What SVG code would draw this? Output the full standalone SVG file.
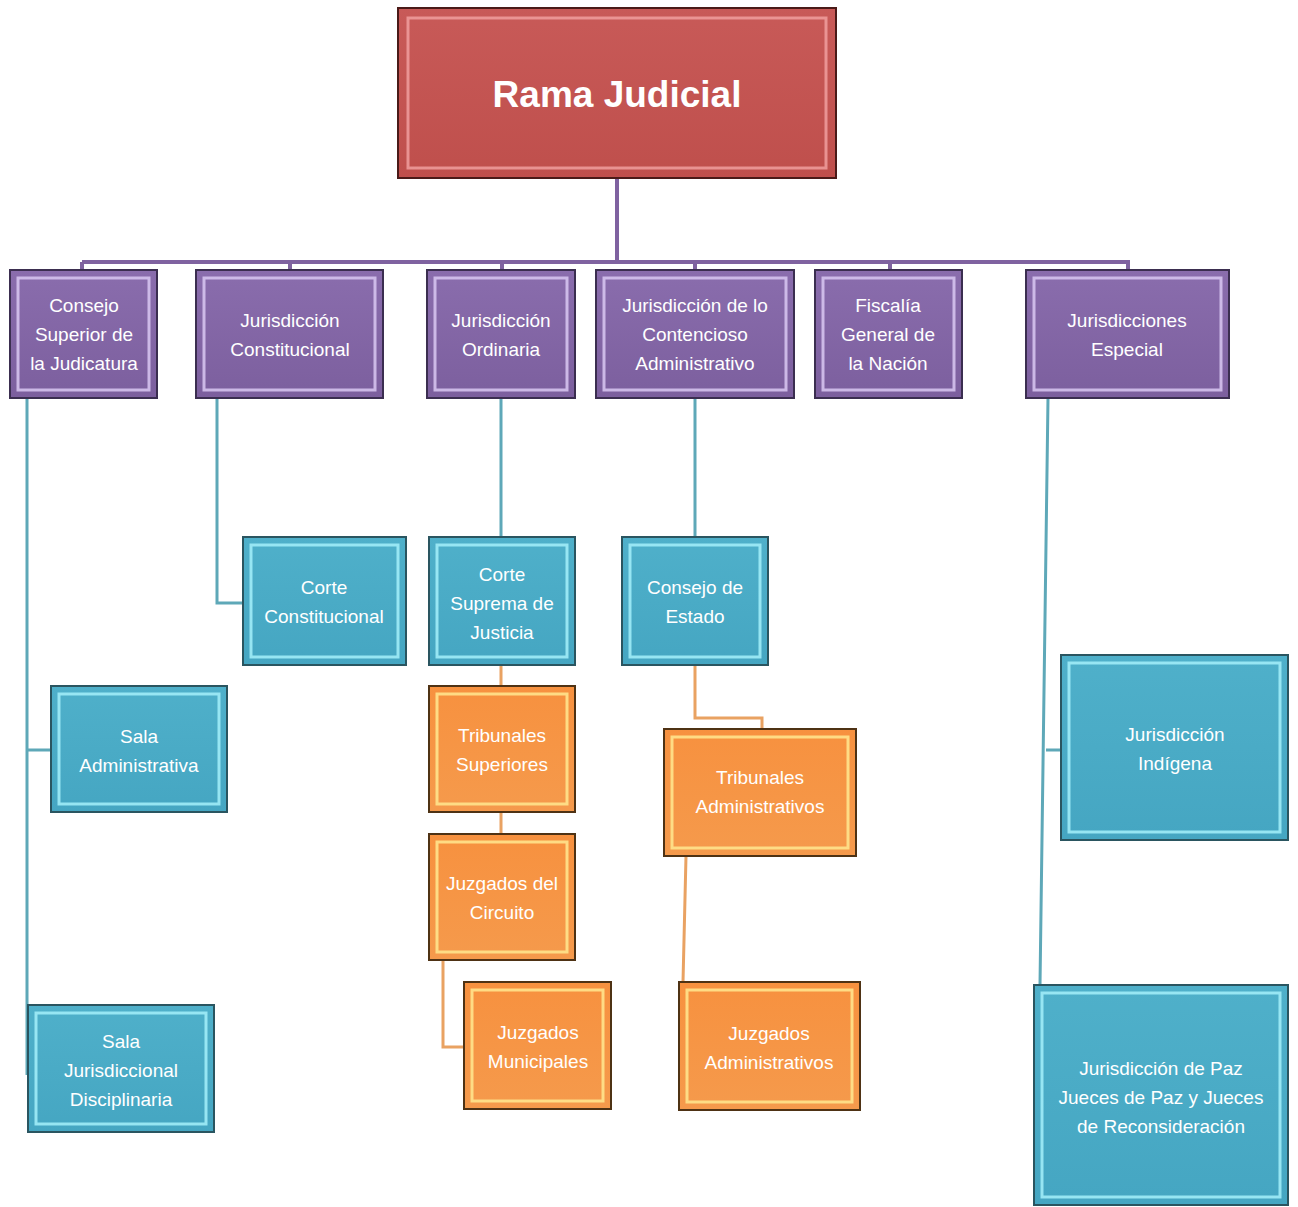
<svg xmlns="http://www.w3.org/2000/svg" width="1298" height="1207" viewBox="0 0 1298 1207">
<defs>
<linearGradient id="gRed" x1="0" y1="0" x2="0" y2="1"><stop offset="0" stop-color="#C85A58"/><stop offset="1" stop-color="#BF4F4C"/></linearGradient>
<linearGradient id="gPur" x1="0" y1="0" x2="0" y2="1"><stop offset="0" stop-color="#8A6DAD"/><stop offset="1" stop-color="#7C5F9E"/></linearGradient>
<linearGradient id="gBlu" x1="0" y1="0" x2="0" y2="1"><stop offset="0" stop-color="#4FB0CA"/><stop offset="1" stop-color="#45A6C2"/></linearGradient>
<linearGradient id="gOra" x1="0" y1="0" x2="0" y2="1"><stop offset="0" stop-color="#F7913F"/><stop offset="1" stop-color="#F59A4C"/></linearGradient>
</defs>
<style>
.red{fill:url(#gRed);stroke:#4a1a18;stroke-width:2}
.pur{fill:url(#gPur);stroke:#3B2E50;stroke-width:2}
.blu{fill:url(#gBlu);stroke:#2a5560;stroke-width:2}
.ora{fill:url(#gOra);stroke:#4e3214;stroke-width:2}
.inR{fill:none;stroke:#F2A3A3;stroke-width:3;opacity:.8}
.inP{fill:none;stroke:#D9C8F2;stroke-width:3;opacity:.85}
.inB{fill:none;stroke:#A5F0FA;stroke-width:3;opacity:.85}
.inO{fill:none;stroke:#FFE38C;stroke-width:3;opacity:.9}
text{font-family:"Liberation Sans","DejaVu Sans",sans-serif;fill:#ffffff;text-anchor:middle}
.t{font-size:19px}
.tr{font-size:37px;font-weight:bold}
.cp{stroke:#7F62A0;stroke-width:4;fill:none}
.cb{stroke:#5EA8B8;stroke-width:3;fill:none}
.co{stroke:#E9A262;stroke-width:3;fill:none}
</style>

<g id="connectors">
<path class="cp" d="M617 178V262M82 262H1130M82 262V270M290 262V270M502 262V270M695 262V270M890 262V270M1128 262V270"/>
<path class="cb" d="M27 398V1075M27 750H51M217 398V603H243M501 398V537M695 398V537M1048 398L1040 985M1046 750H1061"/>
<path class="co" d="M501 665V686M501 812V834M443 960V1047H464M695 665V718H762V729M686 856L683 982"/>
</g>

<g id="rama-judicial">
<rect class="red" x="398" y="8" width="438" height="170"/>
<rect class="inR" x="408" y="18" width="418" height="150"/>
<text class="tr" x="617" y="107">Rama Judicial</text>
</g>

<g id="consejo-superior">
<rect class="pur" x="10" y="270" width="147" height="128"/>
<rect class="inP" x="18" y="278" width="131" height="112"/>
<text class="t" x="84" y="312">Consejo</text>
<text class="t" x="84" y="341">Superior de</text>
<text class="t" x="84" y="370">la Judicatura</text>
</g>

<g id="jur-constitucional">
<rect class="pur" x="196" y="270" width="187" height="128"/>
<rect class="inP" x="204" y="278" width="171" height="112"/>
<text class="t" x="290" y="327">Jurisdicción</text>
<text class="t" x="290" y="356">Constitucional</text>
</g>

<g id="jur-ordinaria">
<rect class="pur" x="427" y="270" width="148" height="128"/>
<rect class="inP" x="435" y="278" width="132" height="112"/>
<text class="t" x="501" y="327">Jurisdicción</text>
<text class="t" x="501" y="356">Ordinaria</text>
</g>

<g id="jur-contencioso">
<rect class="pur" x="596" y="270" width="198" height="128"/>
<rect class="inP" x="604" y="278" width="182" height="112"/>
<text class="t" x="695" y="312">Jurisdicción de lo</text>
<text class="t" x="695" y="341">Contencioso</text>
<text class="t" x="695" y="370">Administrativo</text>
</g>

<g id="fiscalia">
<rect class="pur" x="815" y="270" width="147" height="128"/>
<rect class="inP" x="823" y="278" width="131" height="112"/>
<text class="t" x="888" y="312">Fiscalía</text>
<text class="t" x="888" y="341">General de</text>
<text class="t" x="888" y="370">la Nación</text>
</g>

<g id="jur-especial">
<rect class="pur" x="1026" y="270" width="203" height="128"/>
<rect class="inP" x="1034" y="278" width="187" height="112"/>
<text class="t" x="1127" y="327">Jurisdicciones</text>
<text class="t" x="1127" y="356">Especial</text>
</g>

<g id="corte-constitucional">
<rect class="blu" x="243" y="537" width="163" height="128"/>
<rect class="inB" x="251" y="545" width="147" height="112"/>
<text class="t" x="324" y="594">Corte</text>
<text class="t" x="324" y="623">Constitucional</text>
</g>

<g id="corte-suprema">
<rect class="blu" x="429" y="537" width="146" height="128"/>
<rect class="inB" x="437" y="545" width="130" height="112"/>
<text class="t" x="502" y="581">Corte</text>
<text class="t" x="502" y="610">Suprema de</text>
<text class="t" x="502" y="639">Justicia</text>
</g>

<g id="consejo-estado">
<rect class="blu" x="622" y="537" width="146" height="128"/>
<rect class="inB" x="630" y="545" width="130" height="112"/>
<text class="t" x="695" y="594">Consejo de</text>
<text class="t" x="695" y="623">Estado</text>
</g>

<g id="sala-administrativa">
<rect class="blu" x="51" y="686" width="176" height="126"/>
<rect class="inB" x="59" y="694" width="160" height="110"/>
<text class="t" x="139" y="743">Sala</text>
<text class="t" x="139" y="772">Administrativa</text>
</g>

<g id="sala-disciplinaria">
<rect class="blu" x="28" y="1005" width="186" height="127"/>
<rect class="inB" x="36" y="1013" width="170" height="111"/>
<text class="t" x="121" y="1048">Sala</text>
<text class="t" x="121" y="1077">Jurisdiccional</text>
<text class="t" x="121" y="1106">Disciplinaria</text>
</g>

<g id="tribunales-superiores">
<rect class="ora" x="429" y="686" width="146" height="126"/>
<rect class="inO" x="437" y="694" width="130" height="110"/>
<text class="t" x="502" y="742">Tribunales</text>
<text class="t" x="502" y="771">Superiores</text>
</g>

<g id="juzgados-circuito">
<rect class="ora" x="429" y="834" width="146" height="126"/>
<rect class="inO" x="437" y="842" width="130" height="110"/>
<text class="t" x="502" y="890">Juzgados del</text>
<text class="t" x="502" y="919">Circuito</text>
</g>

<g id="juzgados-municipales">
<rect class="ora" x="464" y="982" width="147" height="127"/>
<rect class="inO" x="472" y="990" width="131" height="111"/>
<text class="t" x="538" y="1039">Juzgados</text>
<text class="t" x="538" y="1068">Municipales</text>
</g>

<g id="tribunales-administrativos">
<rect class="ora" x="664" y="729" width="192" height="127"/>
<rect class="inO" x="672" y="737" width="176" height="111"/>
<text class="t" x="760" y="784">Tribunales</text>
<text class="t" x="760" y="813">Administrativos</text>
</g>

<g id="juzgados-administrativos">
<rect class="ora" x="679" y="982" width="181" height="128"/>
<rect class="inO" x="687" y="990" width="165" height="112"/>
<text class="t" x="769" y="1040">Juzgados</text>
<text class="t" x="769" y="1069">Administrativos</text>
</g>

<g id="jur-indigena">
<rect class="blu" x="1061" y="655" width="227" height="185"/>
<rect class="inB" x="1069" y="663" width="211" height="169"/>
<text class="t" x="1175" y="741">Jurisdicción</text>
<text class="t" x="1175" y="770">Indígena</text>
</g>

<g id="jur-paz">
<rect class="blu" x="1034" y="985" width="254" height="220"/>
<rect class="inB" x="1042" y="993" width="238" height="204"/>
<text class="t" x="1161" y="1075">Jurisdicción de Paz</text>
<text class="t" x="1161" y="1104">Jueces de Paz y Jueces</text>
<text class="t" x="1161" y="1133">de Reconsideración</text>
</g>
</svg>
